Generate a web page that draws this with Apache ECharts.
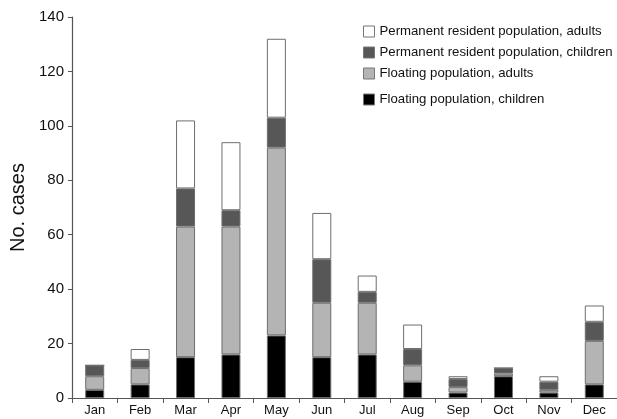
<!DOCTYPE html>
<html><head><meta charset="utf-8">
<script src="https://cdn.jsdelivr.net/npm/echarts@6/dist/echarts.min.js"></script>
<style>html,body{margin:0;padding:0;background:#fff}#c{width:617px;height:419px}</style>
</head><body><div id="c"></div>
<script>
var categories = ['Jan','Feb','Mar','Apr','May','Jun','Jul','Aug','Sep','Oct','Nov','Dec'];
var floatingChildren = [3,5,15,16,23,15,16,6,2,8,2,5];
var floatingAdults = [5,6,48,47,69,20,19,6,2,1,1,16];
var permanentChildren = [4,3,14,6,11,16,4,6,3,2,3,7];
var permanentAdults = [0,4,25,25,29,17,6,9,1,0,2,6];
var yTicks = [0,20,40,60,80,100,120,140];
var seriesNames = ['Permanent resident population, adults','Permanent resident population, children','Floating population, adults','Floating population, children'];

var font = 'Liberation Sans, Arial, sans-serif';
var colors = {};
colors[seriesNames[0]] = '#ffffff';
colors[seriesNames[1]] = '#575757';
colors[seriesNames[2]] = '#b4b4b4';
colors[seriesNames[3]] = '#000000';

function mk(name, data) {
  return {name: name, type: 'bar', stack: 'a', data: data, barWidth: 19,
    itemStyle: {color: colors[name], borderColor: '#6e6e6e', borderWidth: 1}};
}
var legendTops = [20, 41, 62, 88];
var legends = seriesNames.map(function(n, i){
  return {data: [{name: n, icon: 'rect'}], left: 358, top: legendTops[i], orient: 'vertical', itemWidth: 11, itemHeight: 11,
    itemGap: 0, textStyle: {fontFamily: font, fontSize: 13.2, color: '#111'},
    itemStyle: {borderColor: '#777', borderWidth: 1}, selectedMode: false};
});
var chart = echarts.init(document.getElementById('c'), null, {renderer: 'canvas'});
chart.setOption({
  animation: false,
  backgroundColor: '#fff',
  legend: legends,
  grid: {left: 72, right: 0, top: 17, bottom: 21, containLabel: false},
  xAxis: {type: 'category', data: categories, boundaryGap: true,
    axisLine: {lineStyle: {color: '#555', width: 1.2}},
    axisTick: {show: true, inside: false, length: 5, alignWithLabel: false, lineStyle: {color: '#555'}},
    axisLabel: {fontFamily: font, fontSize: 13, color: '#111', margin: 6, interval: 0}},
  yAxis: {type: 'value', min: yTicks[0], max: yTicks[yTicks.length-1], interval: yTicks[1]-yTicks[0],
    name: 'No. cases', nameLocation: 'middle', nameGap: 43,
    nameTextStyle: {fontFamily: font, fontSize: 20, color: '#111'},
    axisLine: {show: true, lineStyle: {color: '#555', width: 1.2}},
    axisTick: {show: true, length: 4, lineStyle: {color: '#555'}},
    splitLine: {show: false},
    axisLabel: {fontFamily: font, fontSize: 15, color: '#111', margin: 8}},
  series: [
    mk(seriesNames[3], floatingChildren),
    mk(seriesNames[2], floatingAdults),
    mk(seriesNames[1], permanentChildren),
    mk(seriesNames[0], permanentAdults)
  ]
});
</script></body></html>
